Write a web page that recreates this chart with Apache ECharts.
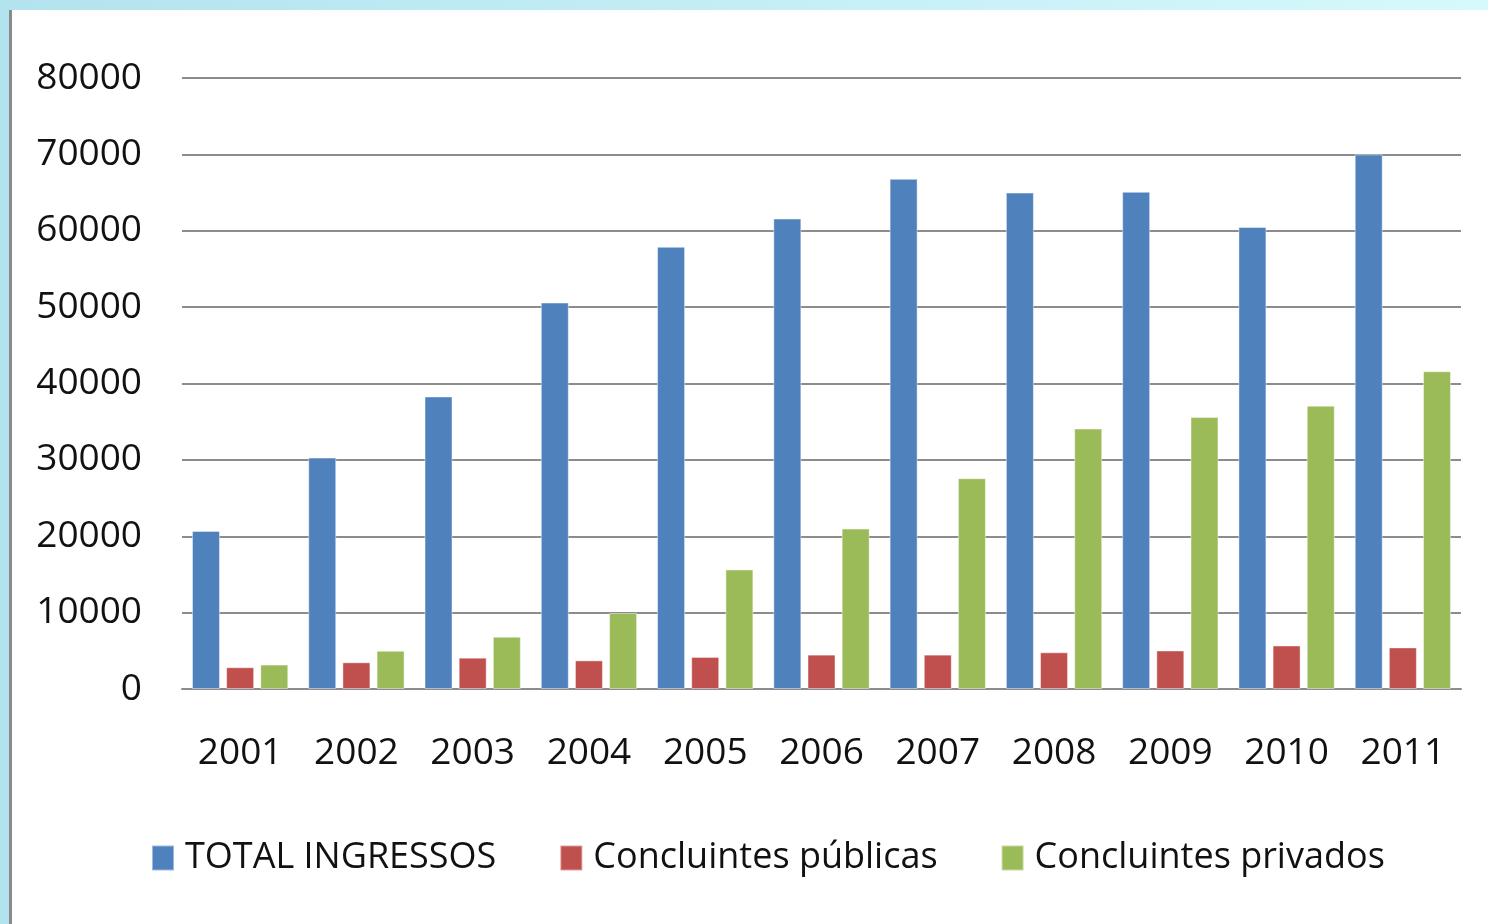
<!DOCTYPE html>
<html>
<head>
<meta charset="utf-8">
<script src="https://cdn.jsdelivr.net/npm/echarts@6/dist/echarts.min.js"></script>
<style>
    html, body {
        margin: 0;
        padding: 0;
        width: 1488px;
        height: 924px;
        overflow: hidden;
        background: linear-gradient(90deg, #b3e3ee 0%, #c4eef6 50%, #d6f9fc 100%);
    }
    #chart {
        position: absolute;
        left: 9px;
        top: 10px;
        width: 1479px;
        height: 914px;
        background: #fff;
        border-left: 3px solid #8a8a8a;
        box-sizing: border-box;
    }
</style>
</head>
<body>
<div id="chart"></div>
<script>
    // dados
    var anos = ['2001', '2002', '2003', '2004', '2005', '2006', '2007', '2008', '2009', '2010', '2011'];
    var totalIngressos = [20700, 30300, 38300, 50600, 57900, 61600, 66800, 65000, 65100, 60500, 70000];
    var concluintesPublicas = [2850, 3500, 4100, 3750, 4200, 4500, 4500, 4800, 5050, 5700, 5450];
    var concluintesPrivados = [3200, 5000, 6850, 9950, 15650, 21000, 27600, 34100, 35600, 37100, 41600];
    var yTicks = [0, 10000, 20000, 30000, 40000, 50000, 60000, 70000, 80000];

    var fonte = '"Open Sans", "Noto Sans", sans-serif';

    var chart = echarts.init(document.getElementById('chart'));

    function serie(nome, dados, cor) {
        return {
            name: nome,
            type: 'bar',
            data: dados,
            barWidth: 28,
            barGap: '22%',
            itemStyle: {
                color: cor,
                borderColor: 'rgba(255,255,255,0.45)',
                borderWidth: 1
            }
        };
    }

    var option = {
        animation: false,
        grid: {
            left: 170,
            right: 27,
            top: 68,
            bottom: 235
        },
        legend: {
            left: 139,
            top: 830,
            padding: 0,
            itemWidth: 22,
            itemHeight: 25,
            itemGap: 63,
            icon: 'rect',
            textStyle: {
                fontFamily: fonte,
                fontSize: 36,
                color: '#111',
                padding: [0, 0, 0, 6]
            },
            data: ['TOTAL INGRESSOS', 'Concluintes públicas', 'Concluintes privados']
        },
        xAxis: {
            type: 'category',
            data: anos,
            axisLine: {
                show: true,
                lineStyle: {color: '#8c8c8c', width: 2}
            },
            axisTick: {show: false},
            axisLabel: {
                margin: 46,
                fontFamily: fonte,
                fontSize: 37,
                color: '#111'
            }
        },
        yAxis: {
            type: 'value',
            min: yTicks[0],
            max: yTicks[yTicks.length - 1],
            interval: yTicks[1] - yTicks[0],
            axisLine: {show: false},
            axisTick: {show: false},
            splitLine: {
                lineStyle: {color: '#8c8c8c', width: 2}
            },
            axisLabel: {
                margin: 40,
                fontFamily: fonte,
                fontSize: 37,
                color: '#111',
                formatter: function (v) {
                    return String(v);
                }
            }
        },
        series: [
            serie('TOTAL INGRESSOS', totalIngressos, '#4f81bd'),
            serie('Concluintes públicas', concluintesPublicas, '#c0504d'),
            serie('Concluintes privados', concluintesPrivados, '#9bbb59')
        ]
    };

    chart.setOption(option);
</script>
</body>
</html>
